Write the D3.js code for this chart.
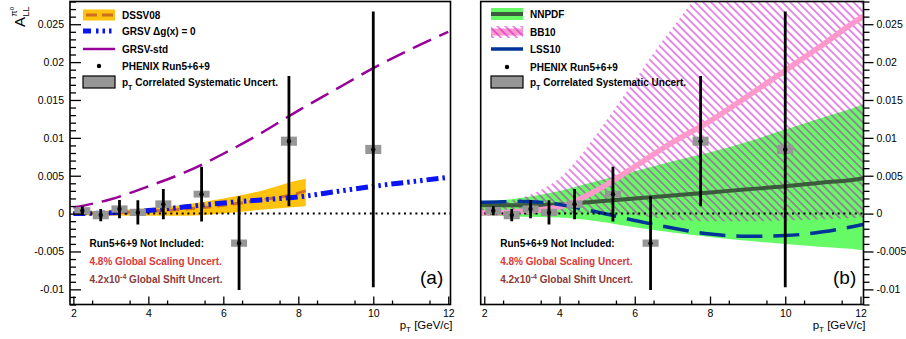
<!DOCTYPE html>
<html><head><meta charset="utf-8">
<script src="https://cdn.jsdelivr.net/npm/d3@7"></script>
<style>
body{margin:0;background:#fff;}
svg{display:block;font-family:"Liberation Sans",Arial,Helvetica,sans-serif;}
</style></head><body>
<svg id="c" width="906" height="339"></svg>
<script>
// ---------------- DATA ----------------
// PHENIX Run5+6+9 pi0 A_LL
const ptPoints   = [2.24, 2.73, 3.23, 3.72, 4.40, 5.42, 6.42, 7.75, 10.0];
const allValues  = [0.00037, -0.0002, 0.0006, 0.00016, 0.00125, 0.00257, -0.0039, 0.00956, 0.00847];
const statErrors = [0.0006, 0.0008, 0.0012, 0.0016, 0.0020, 0.0036, 0.0062, 0.0086, 0.0182];
const sysErrors  = [0.00048, 0.00055, 0.00048, 0.00048, 0.0005, 0.00045, 0.00048, 0.0006, 0.0006];

// Panel (a) theory curves
const ptGrid   = [2, 3, 4, 5, 6, 7, 8, 9, 10, 11, 12];
const grsvStd  = [0.0008, 0.0019, 0.0036, 0.0055, 0.0079, 0.0106, 0.0136, 0.0164, 0.0192, 0.0217, 0.0240];
const grsvZero = [0.0000, 0.0001, 0.0004, 0.0009, 0.0014, 0.0018, 0.0022, 0.0029, 0.0036, 0.0042, 0.0048];
const ptDssv      = [2, 3, 4, 5, 6, 7, 8, 8.2];
const dssvCentral = [0.0000, 0.0001, 0.0003, 0.0006, 0.0011, 0.0018, 0.0027, 0.0030];
const dssvUpper   = [0.0002, 0.0004, 0.0007, 0.0012, 0.0020, 0.0030, 0.0044, 0.0046];
const dssvLower   = [-0.0002, -0.0003, -0.0003, -0.0003, 0.0000, 0.0005, 0.0009, 0.0010];

// Panel (b) theory curves
const ptWide       = [1.9, 2, 3, 4, 5, 6, 7, 8, 9, 10, 11, 12, 12.1];
const nnpdfCentral = [0.0011, 0.0011, 0.0011, 0.0012, 0.0016, 0.0020, 0.0024, 0.0028, 0.0032, 0.0036, 0.0041, 0.0046, 0.0047];
const nnpdfUpper   = [0.0016, 0.0016, 0.0021, 0.0030, 0.0043, 0.0056, 0.0069, 0.0081, 0.0095, 0.0111, 0.0127, 0.0143, 0.0145];
const nnpdfLower   = [-0.0003, -0.0003, -0.0004, -0.0005, -0.0010, -0.0018, -0.0025, -0.0031, -0.0036, -0.0040, -0.0044, -0.0048, -0.0049];
const bb10Central  = [0.0001, 0.0001, 0.0003, 0.0009, 0.0031, 0.0062, 0.0094, 0.0122, 0.0155, 0.0189, 0.0223, 0.0258, 0.0261];
const lss10        = [0.0015, 0.0015, 0.0016, 0.0012, 0.0002, -0.0009, -0.0019, -0.0027, -0.0030, -0.0029, -0.0024, -0.0015, -0.0014];
const ptBB10Band   = [1.9, 2, 2.5, 3, 3.5, 4, 4.5, 5, 5.5, 6, 6.5, 7, 7.5, 8, 9, 10, 12.1];
const bb10Upper    = [0.0011, 0.0012, 0.0015, 0.0021, 0.0031, 0.0047, 0.0073, 0.0106, 0.0141, 0.0176, 0.0212, 0.0245, 0.0278, 0.031, 0.037, 0.043, 0.056];
const bb10Lower    = [-0.0003, -0.0003, -0.0003, -0.0002, -0.0001, 0.0000, 0.0001, 0.0002, 0.0001, -0.0002, -0.0005, -0.0008, -0.0009, -0.0010, -0.0010, -0.0009, -0.0005];

// Axis ticks
const xMajorTicks = [2, 4, 6, 8, 10, 12];
const yMajorTicks = [-0.01, -0.005, 0, 0.005, 0.01, 0.015, 0.02, 0.025];

// ---------------- DRAW ----------------
const svg = d3.select("#c");
const defs = svg.append("defs");
const pat = defs.append("pattern").attr("id","hatch").attr("patternUnits","userSpaceOnUse")
  .attr("width",5.6).attr("height",5.6).attr("patternTransform","rotate(-45)");
pat.append("line").attr("x1",2.8).attr("y1",-1).attr("x2",2.8).attr("y2",7)
  .attr("stroke","#cc00cc").attr("stroke-width",0.9);

const Y0 = 304.5, Y1 = 1.5;
const y = d3.scaleLinear().domain([-0.012, 0.028]).range([Y0, Y1]);

const panels = [
  {id:"a", x:d3.scaleLinear().domain([1.91, 12.06]).range([70, 450.5]), side:"left"},
  {id:"b", x:d3.scaleLinear().domain([1.905, 12.08]).range([480.7, 863.5]), side:"right"}
];

const zip = (xs, ys) => xs.map((v,i)=>[v, ys[i]]);
const zip3 = (xs, lo, hi) => xs.map((v,i)=>({pt:v, lo:lo[i], hi:hi[i]}));

function drawPoints(g, x) {
  const pts = ptPoints.map((p,i)=>({pt:p, v:allValues[i], s:statErrors[i], sys:sysErrors[i]}));
  g.selectAll(null).data(pts).enter().append("rect")
    .attr("x", d=>x(d.pt)-8).attr("width",16)
    .attr("y", d=>y(d.v+d.sys)).attr("height", d=>y(d.v-d.sys)-y(d.v+d.sys))
    .attr("fill","#969696");
  g.selectAll(null).data(pts).enter().append("line")
    .attr("x1", d=>x(d.pt)).attr("x2", d=>x(d.pt))
    .attr("y1", d=>y(d.v+d.s)).attr("y2", d=>y(d.v-d.s))
    .attr("stroke","#000").attr("stroke-width",2.8);
  g.selectAll(null).data(pts).enter().append("circle")
    .attr("cx", d=>x(d.pt)).attr("cy", d=>y(d.v)).attr("r",2.2).attr("fill","#000");
}

panels.forEach(p => {
  const x = p.x;
  const [xl, xr] = x.range();
  const g = svg.append("g");
  defs.append("clipPath").attr("id","clip-"+p.id).append("rect")
    .attr("x",xl).attr("y",Y1).attr("width",xr-xl).attr("height",Y0-Y1);
  const plot = g.append("g").attr("clip-path",`url(#clip-${p.id})`);

  const line = d3.line().x(d=>x(d[0])).y(d=>y(d[1])).curve(d3.curveMonotoneX);
  const area = d3.area().x(d=>x(d.pt)).y0(d=>y(d.lo)).y1(d=>y(d.hi)).curve(d3.curveMonotoneX);

  if (p.id === "a") {
    plot.append("path").datum(zip3(ptDssv, dssvLower, dssvUpper)).attr("d", area).attr("fill","#ffc20e");
    plot.append("path").datum(zip(ptDssv, dssvCentral)).attr("d", line).attr("fill","none")
      .attr("stroke","#cf6e1c").attr("stroke-width",3).attr("stroke-dasharray","10,6");
    plot.append("path").datum(zip(ptGrid, grsvZero)).attr("d", line).attr("fill","none")
      .attr("stroke","#0a14f5").attr("stroke-width",5).attr("stroke-dasharray","12,4,2.5,4,2.5,4,2.5,4");
    plot.append("path").datum(zip(ptGrid, grsvStd)).attr("d", line).attr("fill","none")
      .attr("stroke","#990099").attr("stroke-width",2.5).attr("stroke-dasharray","20,9");
  } else {
    plot.append("path").datum(zip3(ptWide, nnpdfLower, nnpdfUpper)).attr("d", area).attr("fill","#66fa66");
    plot.append("path").datum(zip3(ptBB10Band, bb10Lower, bb10Upper)).attr("d", area).attr("fill","url(#hatch)");
    plot.append("path").datum(zip(ptWide, nnpdfCentral)).attr("d", line).attr("fill","none")
      .attr("stroke","#3c5a3c").attr("stroke-width",4);
    plot.append("path").datum(zip(ptWide, bb10Central)).attr("d", line).attr("fill","none")
      .attr("stroke","#ff99cc").attr("stroke-width",5.5);
    plot.append("path").datum(zip(ptWide, lss10)).attr("d", line).attr("fill","none")
      .attr("stroke","#003399").attr("stroke-width",3.5).attr("stroke-dasharray","26,11");
  }
  // zero line
  plot.append("line").attr("x1",x(2)).attr("x2",xr).attr("y1",y(0)).attr("y2",y(0))
    .attr("stroke","#000").attr("stroke-width",2).attr("stroke-dasharray","2,3.7");
  drawPoints(plot, x);

  // frame
  g.append("rect").attr("x",xl).attr("y",Y1).attr("width",xr-xl).attr("height",Y0-Y1)
    .attr("fill","none").attr("stroke","#000").attr("stroke-width",1.6);

  // axes
  const fmtY = d => d === 0 ? "0" : String(+d.toFixed(4));
  const styleAxis = s => {
    s.select(".domain").remove();
    s.selectAll(".tick line").attr("stroke","#000").attr("stroke-width",1.3);
    s.selectAll("text").attr("font-size",10.5).attr("fill","#000")
      .attr("font-family","'Liberation Sans',Arial,sans-serif");
  };
  g.append("g").attr("transform",`translate(0,${Y0})`)
    .call(d3.axisBottom(x).tickValues(xMajorTicks).tickSize(-8).tickPadding(5).tickFormat(d3.format("d")))
    .call(styleAxis);
  g.append("g").attr("transform",`translate(0,${Y0})`)
    .call(d3.axisBottom(x).tickValues(d3.range(2.5, 12, 1)).tickSize(-4).tickFormat(""))
    .call(styleAxis);
  const yMinor = d3.range(-12, 29, 1).map(v=>v/1000).filter(v=>Math.abs(Math.round(v*1000)%5)!==0);
  if (p.side === "left") {
    g.append("g").attr("transform",`translate(${xl},0)`)
      .call(d3.axisLeft(y).tickValues(yMajorTicks).tickSize(-11).tickPadding(6).tickFormat(fmtY)).call(styleAxis);
    g.append("g").attr("transform",`translate(${xl},0)`)
      .call(d3.axisLeft(y).tickValues(yMinor).tickSize(-6).tickFormat("")).call(styleAxis);
  } else {
    g.append("g").attr("transform",`translate(${xr},0)`)
      .call(d3.axisRight(y).tickValues(yMajorTicks).tickSize(10).tickPadding(3).tickFormat(fmtY)).call(styleAxis);
    g.append("g").attr("transform",`translate(${xr},0)`)
      .call(d3.axisRight(y).tickValues(yMinor).tickSize(6).tickFormat("")).call(styleAxis);
  }

  // x axis title
  const xt = g.append("text").attr("x", xr+2).attr("y",329).attr("text-anchor","end").attr("font-size",11.5);
  xt.append("tspan").text("p");
  xt.append("tspan").attr("font-size",8).attr("dy",3).text("T");
  xt.append("tspan").attr("dy",-3).text(" [GeV/c]");

  // annotation texts
  const ax = xl + 19.5;
  g.append("text").attr("x",ax).attr("y",247).attr("font-size",10).attr("font-weight","bold")
    .attr("fill","#000").text("Run5+6+9 Not Included:");
  g.append("text").attr("x",ax).attr("y",264.7).attr("font-size",10).attr("font-weight","bold")
    .attr("fill","#d93a3a").text("4.8% Global Scaling Uncert.");
  const sh = g.append("text").attr("x",ax).attr("y",283).attr("font-size",10).attr("font-weight","bold").attr("fill","#8a3c3c");
  sh.append("tspan").text("4.2x10");
  sh.append("tspan").attr("font-size",7).attr("dy",-4).text("-4");
  sh.append("tspan").attr("dy",4).text(" Global Shift Uncert.");

  // panel label
  g.append("text").attr("x", xr-30.5).attr("y",284).attr("font-size",19)
    .text(p.id === "a" ? "(a)" : "(b)");

  // legend
  const lx = xl + (p.id === "a" ? 13 : 10.3);
  const tx = lx + 39;
  const leg = g.append("g").attr("font-size",10).attr("font-weight","bold");
  const rows = p.id === "a" ? [15, 31, 49, 66, 82] : [14, 32, 49, 67, 82];
  if (p.id === "a") {
    leg.append("rect").attr("x",lx).attr("y",rows[0]-5.5).attr("width",32).attr("height",11).attr("fill","#ffc20e");
    leg.append("line").attr("x1",lx+3).attr("x2",lx+32).attr("y1",rows[0]).attr("y2",rows[0])
      .attr("stroke","#cf6e1c").attr("stroke-width",3).attr("stroke-dasharray","11,5");
    leg.append("line").attr("x1",lx).attr("x2",lx+32).attr("y1",rows[1]).attr("y2",rows[1])
      .attr("stroke","#0a14f5").attr("stroke-width",5).attr("stroke-dasharray","8,5,2.5,4,2.5,4,2.5,10");
    leg.append("line").attr("x1",lx).attr("x2",lx+32).attr("y1",rows[2]).attr("y2",rows[2])
      .attr("stroke","#990099").attr("stroke-width",2.5);
  } else {
    leg.append("rect").attr("x",lx).attr("y",rows[0]-6).attr("width",32).attr("height",12).attr("fill","#66fa66");
    leg.append("line").attr("x1",lx).attr("x2",lx+32).attr("y1",rows[0]).attr("y2",rows[0])
      .attr("stroke","#3c5a3c").attr("stroke-width",4);
    leg.append("rect").attr("x",lx).attr("y",rows[1]-3.5).attr("width",32).attr("height",7).attr("fill","#ff99cc");
    leg.append("rect").attr("x",lx).attr("y",rows[1]-6).attr("width",32).attr("height",12).attr("fill","url(#hatch)");
    leg.append("line").attr("x1",lx).attr("x2",lx+32).attr("y1",rows[2]).attr("y2",rows[2])
      .attr("stroke","#003399").attr("stroke-width",3.5);
  }
  leg.append("circle").attr("cx",lx+16).attr("cy",rows[3]).attr("r",2.2).attr("fill","#000");
  leg.append("rect").attr("x",lx).attr("y",rows[4]-6).attr("width",32).attr("height",12)
    .attr("fill","#969696").attr("stroke","#000").attr("stroke-width",1.2);
  const names = p.id === "a" ? ["DSSV08", "GRSV \u0394g(x) = 0", "GRSV-std"] : ["NNPDF", "BB10", "LSS10"];
  names.forEach((n,i)=> leg.append("text").attr("x",tx).attr("y",rows[i]+3.6).text(n));
  leg.append("text").attr("x",tx).attr("y",rows[3]+3.6).text("PHENIX Run5+6+9");
  const st = leg.append("text").attr("x",tx).attr("y",rows[4]+3.6);
  st.append("tspan").text("p");
  st.append("tspan").attr("font-size",7).attr("dy",4).text("T");
  st.append("tspan").attr("dy",-4).text(" Correlated Systematic Uncert.");
});

// y axis title (rotated)
const yt = svg.append("g").attr("transform","translate(25,27) rotate(-90)");
yt.append("text").attr("x",0).attr("y",0).attr("font-size",15).text("A");
yt.append("text").attr("x",10.5).attr("y",3.5).attr("font-size",9).text("LL");
const sup = yt.append("text").attr("x",10.5).attr("y",-8).attr("font-size",9);
sup.append("tspan").text("\u03c0");
sup.append("tspan").attr("font-size",6).attr("dy",-3).text("0");
</script>
</body></html>
